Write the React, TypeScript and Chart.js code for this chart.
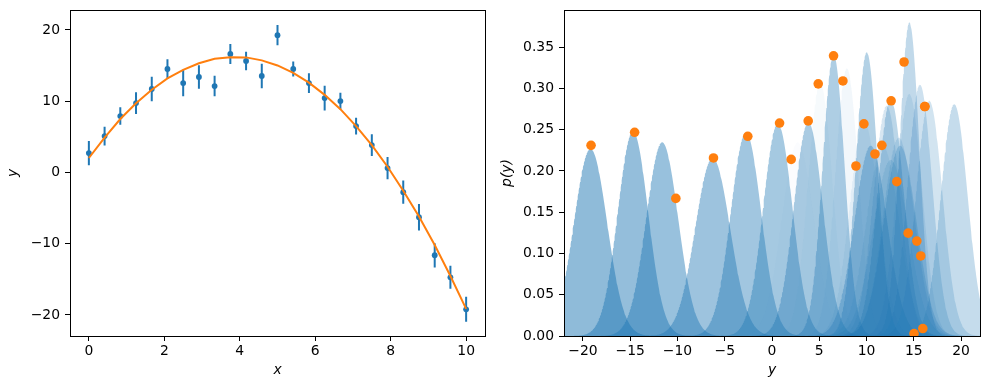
import React, { useEffect, useRef } from 'react';
import { Chart, registerables } from 'chart.js';

Chart.register(...registerables);

// ---- data ----
const xVals = [0, 0.417, 0.833, 1.25, 1.667, 2.083, 2.5, 2.917, 3.333, 3.75, 4.167, 4.583, 5, 5.417, 5.833, 6.25, 6.667, 7.083, 7.5, 7.917, 8.333, 8.75, 9.167, 9.583, 10];
const yObs = [2.72, 5.1, 7.92, 9.74, 11.71, 14.52, 12.55, 13.4, 12.13, 16.63, 15.64, 13.54, 19.27, 14.53, 12.55, 10.44, 10.02, 6.51, 3.84, 0.61, -2.76, -6.28, -11.62, -14.71, -19.2];
const yErr = [1.7, 1.3, 1.23, 1.53, 1.73, 1.36, 1.87, 1.66, 1.43, 1.4, 1.31, 1.73, 1.42, 1.05, 1.39, 1.73, 1.16, 1.17, 1.54, 1.55, 1.62, 1.85, 1.7, 1.61, 1.76];
const yFit = [2.03, 4.89, 7.5, 9.72, 11.62, 13.2, 14.4, 15.32, 15.95, 16.18, 16.15, 15.73, 15.02, 13.97, 12.6, 10.89, 8.88, 6.51, 3.83, 0.8, -2.56, -6.19, -10.17, -14.53, -19.14];
const pDot = [0.214, 0.3055, 0.309, 0.257, 0.231, 0.187, 0.1246, 0.115, 0.009, 0.278, 0.278, 0.097, 0.003, 0.332, 0.285, 0.2205, 0.206, 0.3395, 0.2606, 0.258, 0.242, 0.2157, 0.1667, 0.2468, 0.231];

const leftXTicks = [0, 2, 4, 6, 8, 10];
const leftYTicks = [-20, -10, 0, 10, 20];
const rightXTicks = [-20, -15, -10, -5, 0, 5, 10, 15, 20];
const rightYTicks = [0, 0.05, 0.1, 0.15, 0.2, 0.25, 0.3, 0.35];

const leftXRange = [-0.5, 10.5];
const leftYRange = [-22.95, 22.8];
const rightXRange = [-22, 22];
const rightYRange = [0, 0.395];

// ---- styles ----
const BLUE = '#1f77b4';
const ORANGE = '#ff7f0e';
const FONT = "'DejaVu Sans', sans-serif";
const FSIZE = 13.9;

const fmt = (v: number, d: number) => {
  const s = Math.abs(v).toFixed(d);
  return v < 0 && Number(s) !== 0 ? '\u2212' + s : s;
};

function axis(range: number[], ticks: number[], decimals: number, title: string, size: number, isX: boolean) {
  return {
    type: 'linear',
    min: range[0],
    max: range[1],
    afterBuildTicks: (s: any) => {
      s.ticks = ticks.map((v) => ({ value: v }));
    },
    afterFit: (s: any) => {
      if (isX) s.height = size;
      else s.width = size;
      s.paddingTop = 0;
      s.paddingBottom = 0;
      s.paddingLeft = 0;
      s.paddingRight = 0;
    },
    grid: {
      display: true,
      drawOnChartArea: false,
      drawTicks: true,
      tickLength: 5,
      color: '#000',
      tickColor: '#000',
      lineWidth: 1,
      tickWidth: 1,
    },
    border: { display: false },
    ticks: {
      color: '#000',
      font: { family: FONT, size: FSIZE },
      padding: isX ? 2 : 5,
      maxRotation: 0,
      minRotation: 0,
      autoSkip: false,
      callback: (v: any) => fmt(Number(v), decimals),
    },
    title: {
      display: true,
      text: title,
      color: '#000',
      font: { family: FONT, size: FSIZE, style: 'italic' },
      padding: isX ? { top: 0, bottom: 11.5 } : { top: 5, bottom: 0 },
    },
  };
}

const framePlugin = {
  id: 'frame',
  afterDraw(chart: any) {
    const { ctx, chartArea: a } = chart;
    ctx.save();
    ctx.strokeStyle = '#000';
    ctx.lineWidth = 1;
    ctx.strokeRect(Math.round(a.left) + 0.5, Math.round(a.top) + 0.5, Math.round(a.right - a.left), Math.round(a.bottom - a.top));
    ctx.restore();
  },
};

const baseOptions = {
  responsive: false,
  maintainAspectRatio: false,
  animation: false,
  devicePixelRatio: 1,
  events: [],
  plugins: { legend: { display: false }, tooltip: { enabled: false } },
};

function leftConfig(): any {
  const errData: any[] = [];
  xVals.forEach((x, i) => {
    errData.push({ x, y: yObs[i] - yErr[i] });
    errData.push({ x, y: yObs[i] + yErr[i] });
    errData.push({ x, y: null });
  });
  return {
    type: 'line',
    data: {
      datasets: [
        {
          label: 'fit',
          order: 0,
          data: xVals.map((x, i) => ({ x, y: yFit[i] })),
          borderColor: ORANGE,
          borderWidth: 2,
          pointRadius: 0,
          tension: 0,
          fill: false,
        },
        {
          label: 'points',
          order: 1,
          data: xVals.map((x, i) => ({ x, y: yObs[i] })),
          showLine: false,
          pointRadius: 2.9,
          pointBorderWidth: 0,
          pointBackgroundColor: BLUE,
          backgroundColor: BLUE,
          borderColor: BLUE,
        },
        {
          label: 'errors',
          order: 2,
          data: errData,
          borderColor: BLUE,
          borderWidth: 2,
          borderCapStyle: 'butt',
          pointRadius: 0,
          spanGaps: false,
          fill: false,
        },
      ],
    },
    options: {
      ...baseOptions,
      layout: { padding: { left: 0, top: 10, right: 9, bottom: 0 } },
      scales: {
        x: axis(leftXRange, leftXTicks, 0, 'x', 54, true),
        y: axis(leftYRange, leftYTicks, 0, 'y', 70, false),
      },
    },
    plugins: [framePlugin],
  };
}

function rightConfig(): any {
  const grid: number[] = [];
  for (let k = 0; k <= 880; k++) grid.push(rightXRange[0] + (k * (rightXRange[1] - rightXRange[0])) / 880);
  const n = yObs.length;
  const gaussSets = yObs.map((mu, i) => {
    const s = yErr[i];
    const a = (0.5 * (i + 1)) / n;
    return {
      label: 'g' + i,
      order: 1 + i,
      data: grid.map((y) => ({ x: y, y: Math.exp(-0.5 * ((y - mu) / s) ** 2) / (Math.sqrt(2 * Math.PI) * s) })),
      borderWidth: 0,
      borderColor: 'rgba(0,0,0,0)',
      backgroundColor: `rgba(31,119,180,${a})`,
      pointRadius: 0,
      fill: 'origin',
      tension: 0,
    };
  });
  return {
    type: 'line',
    data: {
      datasets: [
        {
          label: 'dots',
          order: 0,
          data: yFit.map((m, i) => ({ x: m, y: pDot[i] })),
          showLine: false,
          pointRadius: 4.8,
          pointBorderWidth: 0,
          pointBackgroundColor: ORANGE,
          backgroundColor: ORANGE,
          borderColor: ORANGE,
          fill: false,
        },
        ...gaussSets,
      ],
    },
    options: {
      ...baseOptions,
      layout: { padding: { left: 0, top: 10, right: 9, bottom: 0 } },
      scales: {
        x: axis(rightXRange, rightXTicks, 0, 'y', 54, true),
        y: axis(rightYRange, rightYTicks, 2, 'p(y)', 70, false),
      },
    },
    plugins: [framePlugin],
  };
}

export default function App() {
  const leftRef = useRef<HTMLCanvasElement>(null);
  const rightRef = useRef<HTMLCanvasElement>(null);
  useEffect(() => {
    const c1 = new Chart(leftRef.current as HTMLCanvasElement, leftConfig());
    const c2 = new Chart(rightRef.current as HTMLCanvasElement, rightConfig());
    return () => {
      c1.destroy();
      c2.destroy();
    };
  }, []);
  return (
    <div style={{ position: 'absolute', left: 0, top: 0, width: 989, height: 390, background: '#fff' }}>
      <canvas ref={leftRef} width={494} height={390} style={{ position: 'absolute', left: 0, top: 0, width: 494, height: 390 }} />
      <canvas ref={rightRef} width={495} height={390} style={{ position: 'absolute', left: 494, top: 0, width: 495, height: 390 }} />
    </div>
  );
}
